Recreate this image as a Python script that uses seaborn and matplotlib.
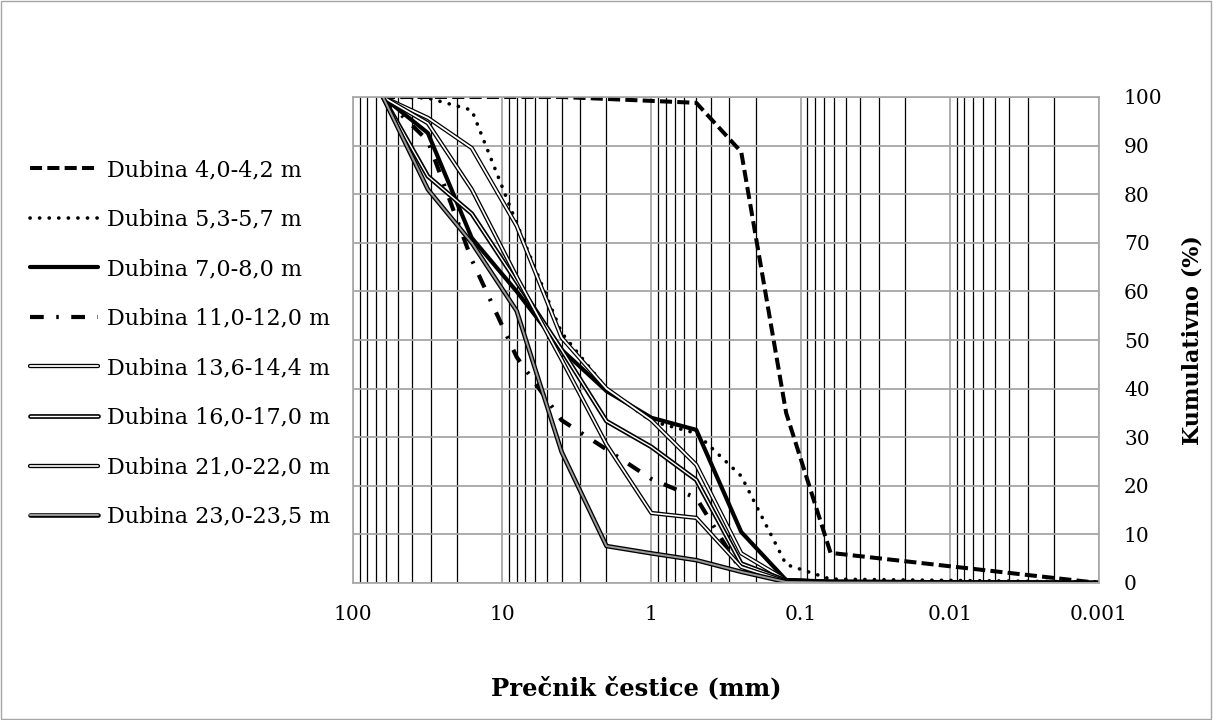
import matplotlib
matplotlib.use("Agg")
import matplotlib.pyplot as plt
import matplotlib.patheffects as pe
from matplotlib.patches import Rectangle
from matplotlib.ticker import LogLocator, NullFormatter
import seaborn as sns
import pandas as pd

# particle sizes (mm) - sieve series + fine end
sizes = [63, 31.5, 16, 8, 4, 2, 1, 0.5, 0.25, 0.125, 0.063, 0.001]

d_4_0 = [100, 100, 100, 100, 100, 99.6, 99.2, 98.8, 88.7, 35.0, 6.2, 0]
d_5_3 = [100, 99.8, 97.3, 74.0, 51.5, 40.0, 33.3, 30.8, 22.0, 3.8, 0.8, 0.2]
d_7_0 = [100, 92.6, 71.0, 60.0, 48.0, 39.5, 34.0, 31.5, 10.5, 0.6, 0.3, 0]
d_11_0 = [100, 91.0, 66.5, 46.5, 33.5, 27.5, 21.4, 17.5, 2.5, 0.5, 0.2, 0]
d_13_6 = [100, 95.7, 89.5, 73.5, 50.5, 40.0, 33.5, 24.3, 6.1, 0.6, 0.2, 0]
d_16_0 = [100, 83.7, 76.0, 62.0, 48.0, 33.3, 28.0, 21.2, 4.0, 0.5, 0.2, 0]
d_21_0 = [100, 94.6, 81.0, 63.0, 46.0, 28.5, 14.4, 13.4, 3.3, 0.3, 0.1, 0]
d_23_0 = [100, 81.0, 70.0, 56.0, 27.0, 7.6, 6.1, 4.7, 2.3, 0.2, 0.1, 0]

labels = ["Dubina 4,0-4,2 m", "Dubina 5,3-5,7 m", "Dubina 7,0-8,0 m",
          "Dubina 11,0-12,0 m", "Dubina 13,6-14,4 m", "Dubina 16,0-17,0 m",
          "Dubina 21,0-22,0 m", "Dubina 23,0-23,5 m"]
series = [d_4_0, d_5_3, d_7_0, d_11_0, d_13_6, d_16_0, d_21_0, d_23_0]

xtick_vals = [100, 10, 1, 0.1, 0.01, 0.001]
xtick_labels = ["100", "10", "1", "0.1", "0.01", "0.001"]

sns.set_style("white")
plt.rcParams['font.family'] = ['DejaVu Serif']
plt.rcParams['text.color'] = 'black'
plt.rcParams['xtick.color'] = 'black'
plt.rcParams['ytick.color'] = 'black'


def double(outer):
    return [pe.Stroke(linewidth=outer, foreground='black'), pe.Normal()]


styles = [
    dict(color='black', lw=2.9, linestyle=(0, (3, 1.3)), dash_capstyle='butt'),
    dict(color='black', lw=2.6, linestyle=(0, (0.05, 2.6)), dash_capstyle='round'),
    dict(color='black', lw=3.0, linestyle='-'),
    dict(color='black', lw=3.0, linestyle=(0, (3.3, 3.0, 0.6, 3.0)), dash_capstyle='butt'),
    dict(color='white', lw=1.3, linestyle='-', path_effects=double(3.1)),
    dict(color='white', lw=1.0, linestyle='-', path_effects=double(3.4)),
    dict(color='white', lw=1.2, linestyle='-', path_effects=double(3.1)),
    dict(color='#9a9a9a', lw=1.4, linestyle='-', path_effects=double(3.3)),
]

fig = plt.figure(figsize=(12.13, 7.2), dpi=100)
ax = fig.add_axes([353 / 1213, 137 / 720, 746 / 1213, 486 / 720])

for lab, vals, st in zip(labels, series, styles):
    df = pd.DataFrame({'size': sizes, 'pct': vals})
    sns.lineplot(data=df, x='size', y='pct', ax=ax, sort=False, estimator=None,
                 label=lab, **st)

ax.set_xscale('log')
ax.set_xlim(100, 0.001)
ax.set_ylim(0, 100)
ax.set_xticks(xtick_vals)
ax.set_xticklabels(xtick_labels)
ax.xaxis.set_minor_locator(LogLocator(base=10, subs=range(2, 10), numticks=20))
ax.xaxis.set_minor_formatter(NullFormatter())
ax.set_yticks(range(0, 101, 10))
ax.yaxis.tick_right()

ax.grid(True, which='major', axis='x', color='#a6a6a6', lw=1.3)
ax.grid(True, which='minor', axis='x', color='black', lw=0.9)
ax.grid(True, which='major', axis='y', color='#a6a6a6', lw=1.3)
ax.set_axisbelow(True)

for s in ax.spines.values():
    s.set_color('#a6a6a6')
    s.set_linewidth(1.2)

ax.tick_params(axis='x', which='major', length=4, color='#a6a6a6', labelsize=14.5, pad=12)
ax.tick_params(axis='x', which='minor', length=0)
ax.tick_params(axis='y', length=0, labelsize=14.5, pad=18)

ax.set_xlabel('')
ax.set_ylabel('')
fig.text(636 / 1213, 1 - 688 / 720, 'Prečnik čestice (mm)', ha='center', va='center',
         fontsize=17.5, fontweight='bold')
fig.text(1192 / 1213, 1 - 340 / 720, 'Kumulativno (%)', ha='center', va='center',
         rotation=90, fontsize=16, fontweight='bold')

handles, labs = ax.get_legend_handles_labels()
ax.get_legend().remove()
fig.legend(handles, labs, loc='upper left', bbox_to_anchor=(30 / 1213, 1 - 159 / 720),
           bbox_transform=fig.transFigure, frameon=False, fontsize=16,
           handlelength=3.06, handletextpad=0.4, labelspacing=1.24,
           borderaxespad=0, borderpad=0)

fig.patches.append(Rectangle((0.001, 0.001), 0.997, 0.997, transform=fig.transFigure,
                             fill=False, edgecolor='#a6a6a6', lw=1))

fig.savefig('out.png', dpi=100)
